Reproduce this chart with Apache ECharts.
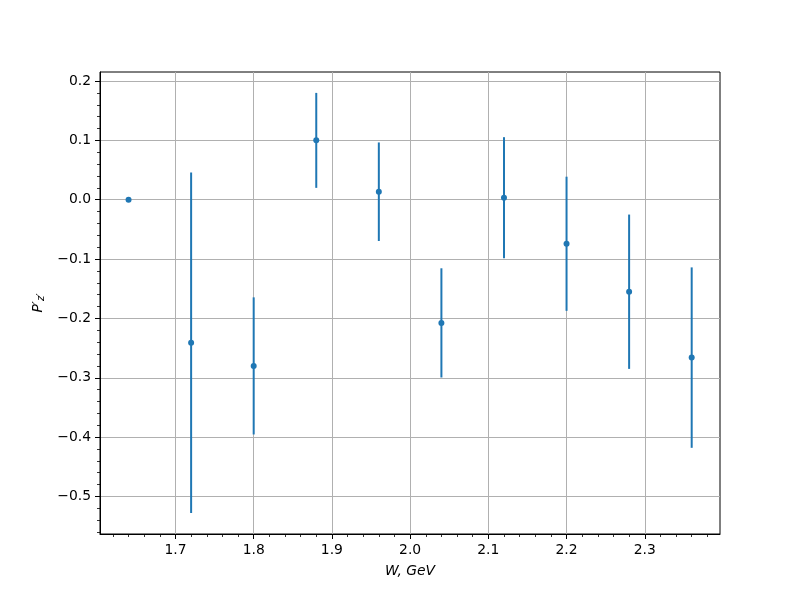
<!DOCTYPE html>
<html>
<head>
<meta charset="utf-8">
<script src="https://cdn.jsdelivr.net/npm/echarts@6/dist/echarts.min.js"></script>
<style>html,body{margin:0;padding:0;background:#fff}#c{width:800px;height:600px}</style>
</head>
<body>
<div id="c"></div>
<script>
const wValues = [1.64, 1.72, 1.80, 1.88, 1.96, 2.04, 2.12, 2.20, 2.28, 2.36];
const pzValues = [0.0, -0.241, -0.280, 0.100, 0.0135, -0.2075, 0.0034, -0.0742, -0.155, -0.266];
const pzErrors = [0.0, 0.287, 0.1155, 0.080, 0.083, 0.092, 0.102, 0.113, 0.130, 0.152];
const xTicks = [1.7, 1.8, 1.9, 2.0, 2.1, 2.2, 2.3];
const yTicks = [-0.5, -0.4, -0.3, -0.2, -0.1, 0.0, 0.1, 0.2];

const data = wValues.map((w, i) => [w, pzValues[i], pzErrors[i]]);
const fmt = v => { const s = (Math.abs(v) < 1e-9 ? 0 : v).toFixed(1); return s.replace('-', '\u2212'); };
const FONT = 'DejaVu Sans';
const chart = echarts.init(document.getElementById('c'), null, {renderer: 'canvas'});
chart.setOption({
  animation: false,
  backgroundColor: '#fff',
  grid: {left: 100, right: 80, top: 72, bottom: 66, show: true, borderColor: '#000', borderWidth: 1, backgroundColor: 'transparent'},
  xAxis: {
    type: 'value', min: 1.6035, max: 2.3962, splitNumber: 8,
    name: 'W, GeV', nameLocation: 'middle', nameGap: 30,
    nameTextStyle: {fontFamily: FONT, fontSize: 13.9, fontStyle: 'italic', color: '#000'},
    axisLine: {onZero: false, lineStyle: {color: '#000', width: 1}},
    axisTick: {show: true, length: 5, customValues: xTicks, lineStyle: {color: '#000', width: 1}},
    minorTick: {show: true, splitNumber: 5, length: 3, lineStyle: {color: '#000', width: 0.8}},
    splitLine: {show: true, lineStyle: {color: '#b0b0b0', width: 1}},
    axisLabel: {customValues: xTicks, margin: 9, fontFamily: FONT, fontSize: 13.9, color: '#000', formatter: fmt}
  },
  yAxis: {
    type: 'value', min: -0.5632, max: 0.2152, splitNumber: 8,
    name: '{p|P\u2032}{s|z\u2032}', nameLocation: 'middle', nameGap: 54,
    nameTextStyle: {fontFamily: FONT, color: '#000', rich: {
      p: {fontFamily: FONT, fontSize: 13.9, fontStyle: 'italic', color: '#000'},
      s: {fontFamily: FONT, fontSize: 10, fontStyle: 'italic', color: '#000', verticalAlign: 'bottom', padding: [6, 0, 0, 0]}
    }},
    axisLine: {onZero: false, lineStyle: {color: '#000', width: 1}},
    axisTick: {show: true, length: 5, customValues: yTicks, lineStyle: {color: '#000', width: 1}},
    minorTick: {show: true, splitNumber: 5, length: 3, lineStyle: {color: '#000', width: 0.8}},
    splitLine: {show: true, lineStyle: {color: '#b0b0b0', width: 1}},
    axisLabel: {customValues: yTicks, margin: 9, fontFamily: FONT, fontSize: 13.9, color: '#000', formatter: fmt}
  },
  series: [{
    type: 'custom',
    data: data,
    clip: false,
    renderItem: function (params, api) {
      const x = api.value(0), y = api.value(1), e = api.value(2);
      const top = api.coord([x, y + e]);
      const bot = api.coord([x, y - e]);
      const c = api.coord([x, y]);
      return {
        type: 'group',
        children: [
          {type: 'line', shape: {x1: top[0], y1: top[1], x2: bot[0], y2: bot[1]}, style: {stroke: '#1f77b4', lineWidth: 2}},
          {type: 'circle', shape: {cx: c[0], cy: c[1], r: 3}, style: {fill: '#1f77b4'}}
        ]
      };
    }
  }]
});
</script>
</body>
</html>
